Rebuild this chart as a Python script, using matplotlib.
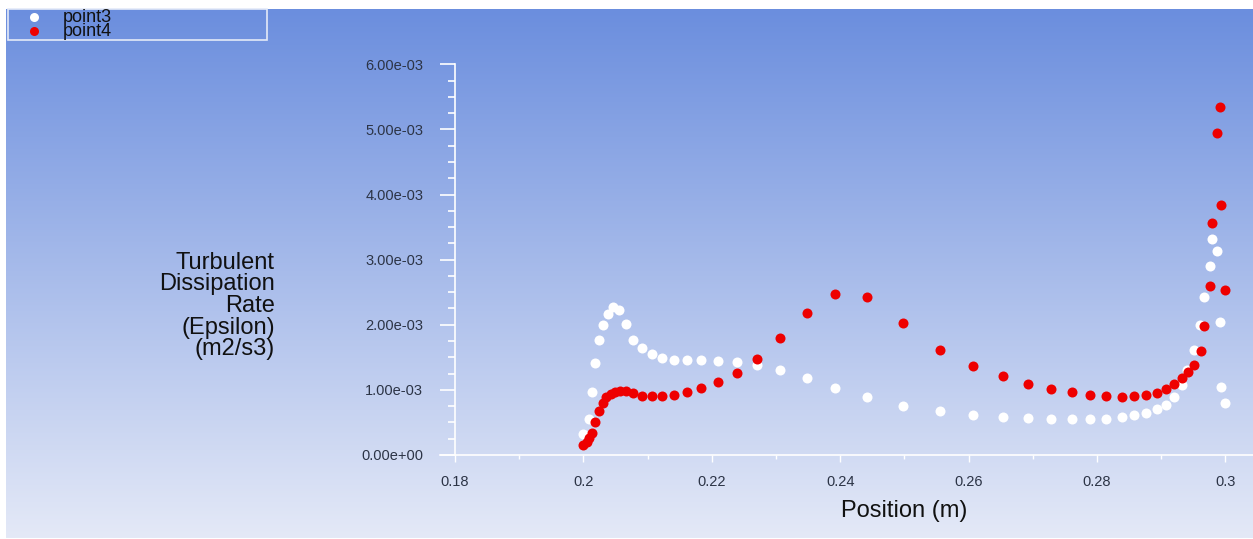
import numpy as np
import matplotlib
matplotlib.use("Agg")
import matplotlib.pyplot as plt
from matplotlib.ticker import MultipleLocator, FormatStrFormatter
from matplotlib.lines import Line2D
from matplotlib.patches import Rectangle

# ---------------- data ----------------
x_point3 = [0.2000, 0.2008, 0.2013, 0.2018, 0.2024, 0.2030, 0.2038, 0.2046, 0.2056, 0.2067,
            0.2078, 0.2091, 0.2107, 0.2122, 0.2141, 0.2161, 0.2184, 0.2209, 0.2239, 0.2270,
            0.2306, 0.2348, 0.2392, 0.2442, 0.2498, 0.2556, 0.2607, 0.2653, 0.2692, 0.2728,
            0.2761, 0.2789, 0.2814, 0.2839, 0.2858, 0.2876, 0.2893, 0.2908, 0.2920, 0.2933,
            0.2941, 0.2952, 0.2960, 0.2967, 0.2976, 0.2980, 0.2987, 0.2991, 0.2994, 0.2999]
y_point3 = [0.33, 0.56, 0.96, 1.42, 1.76, 2.00, 2.16, 2.27, 2.22, 2.01,
            1.77, 1.65, 1.55, 1.49, 1.46, 1.46, 1.46, 1.45, 1.43, 1.38,
            1.31, 1.18, 1.03, 0.89, 0.76, 0.67, 0.62, 0.59, 0.57, 0.56,
            0.56, 0.56, 0.56, 0.58, 0.61, 0.65, 0.70, 0.77, 0.89, 1.07,
            1.31, 1.62, 2.00, 2.43, 2.91, 3.32, 3.13, 2.04, 1.04, 0.80]

x_point4 = [0.2000, 0.2005, 0.2009, 0.2013, 0.2018, 0.2024, 0.2030, 0.2036, 0.2043, 0.2049,
            0.2057, 0.2067, 0.2078, 0.2091, 0.2107, 0.2122, 0.2141, 0.2161, 0.2184, 0.2209,
            0.2239, 0.2270, 0.2306, 0.2348, 0.2392, 0.2442, 0.2498, 0.2556, 0.2607, 0.2653,
            0.2692, 0.2728, 0.2761, 0.2789, 0.2814, 0.2839, 0.2858, 0.2876, 0.2893, 0.2908,
            0.2920, 0.2933, 0.2942, 0.2952, 0.2962, 0.2967, 0.2976, 0.2980, 0.2987, 0.2991,
            0.2994, 0.2999]
y_point4 = [0.15, 0.20, 0.26, 0.34, 0.50, 0.67, 0.80, 0.89, 0.94, 0.97,
            0.99, 0.99, 0.95, 0.91, 0.91, 0.91, 0.92, 0.96, 1.03, 1.12,
            1.26, 1.48, 1.79, 2.18, 2.48, 2.43, 2.03, 1.62, 1.37, 1.22,
            1.09, 1.01, 0.96, 0.92, 0.91, 0.89, 0.91, 0.92, 0.95, 1.02,
            1.09, 1.18, 1.28, 1.38, 1.60, 1.98, 2.60, 3.56, 4.95, 5.35,
            3.84, 2.54]
scale = 1e-3

series_labels = ["point3", "point4"]
y_tick_values = [0, 1e-3, 2e-3, 3e-3, 4e-3, 5e-3, 6e-3]
x_tick_values = [0.18, 0.20, 0.22, 0.24, 0.26, 0.28, 0.30]
x_title = "Position (m)"
y_title = "Turbulent\nDissipation\nRate\n(Epsilon)\n(m2/s3)"

# ---------------- figure ----------------
W, H = 1253, 539
fig = plt.figure(figsize=(W / 100, H / 100), dpi=100, facecolor="white")
plt.rcParams["font.family"] = ["Liberation Sans", "DejaVu Sans"]

# gradient background
bg = fig.add_axes([6 / W, 1 / H, (W - 6) / W, (H - 10) / H], zorder=0)
top = np.array([107, 142, 222]) / 255
bot = np.array([228, 233, 247]) / 255
t = np.linspace(0, 1, 256)[:, None]
grad = top[None, :] * (1 - t) + bot[None, :] * t
bg.imshow(grad[:, None, :], aspect="auto", extent=[0, 1, 0, 1], origin="upper")
bg.set_axis_off()

# main axes
x0, x1 = 455, 1253
y0, y1 = 455, 64.3
ax = fig.add_axes([x0 / W, 1 - y0 / H, (x1 - x0) / W, (y0 - y1) / H], zorder=2)
ax.patch.set_alpha(0)

ax.scatter(x_point3, np.array(y_point3) * scale, s=52, color="white", linewidths=0, zorder=3)
ax.scatter(x_point4, np.array(y_point4) * scale, s=52, color="#ee0000", linewidths=0, zorder=4)

xmax = 0.2 + (1253 - 583.3) / 6420
ax.set_xlim(0.18, xmax)
ax.set_ylim(0, 6e-3)

for side in ["top", "right"]:
    ax.spines[side].set_visible(False)
for side in ["left", "bottom"]:
    ax.spines[side].set_color("white")
    ax.spines[side].set_linewidth(1.2)

tick_col = "#2c3446"
ax.set_yticks(y_tick_values)
ax.yaxis.set_major_formatter(FormatStrFormatter("%.2e"))
ax.yaxis.set_minor_locator(MultipleLocator(0.25e-3))
ax.set_xticks(x_tick_values)
ax.set_xticklabels([f"{v:g}" for v in x_tick_values])
ax.xaxis.set_minor_locator(MultipleLocator(0.01))

ax.tick_params(axis="y", which="major", direction="out", length=10.8, width=1.2,
               color="white", labelcolor=tick_col, labelsize=10.5, pad=12)
ax.tick_params(axis="y", which="minor", direction="out", length=5, width=1.2, color="white")
ax.tick_params(axis="x", which="major", direction="out", length=4.8, width=1,
               color="white", labelcolor=tick_col, labelsize=10.5, pad=9.6)
ax.tick_params(axis="x", which="minor", direction="out", length=3, width=1, color="white")

# x-axis line extension to the left
ax.add_line(Line2D([-15 / (x1 - x0), 0], [0, 0], transform=ax.transAxes,
                   color="white", lw=1.2, clip_on=False))

# titles
fig.text(904 / W, 1 - 511 / H, x_title, ha="center", va="center",
         fontsize=17, color="#111111")
fig.text(275 / W, 1 - 306 / H, y_title, ha="right", va="center",
         fontsize=17, color="#111111", linespacing=0.98, multialignment="right")

# legend (manual)
fig.patches.append(Rectangle((8 / W, 1 - 40 / H), (267 - 8) / W, (40 - 9) / H,
                             transform=fig.transFigure, facecolor="none",
                             edgecolor="#e4eaf8", linewidth=1.2, zorder=5))
leg_cols = ["white", "#ee0000"]
leg_y = [17, 31]
for lab, col, yy in zip(series_labels, leg_cols, leg_y):
    fig.lines.append(Line2D([34 / W], [1 - yy / H], transform=fig.transFigure,
                            marker="o", markersize=6.5, markerfacecolor=col,
                            markeredgewidth=0, linestyle="none", zorder=6))
    fig.text(63 / W, 1 - yy / H, lab, ha="left", va="center", fontsize=13,
             color="#111111", zorder=6)

fig.savefig("out.png", dpi=100, facecolor="white")
